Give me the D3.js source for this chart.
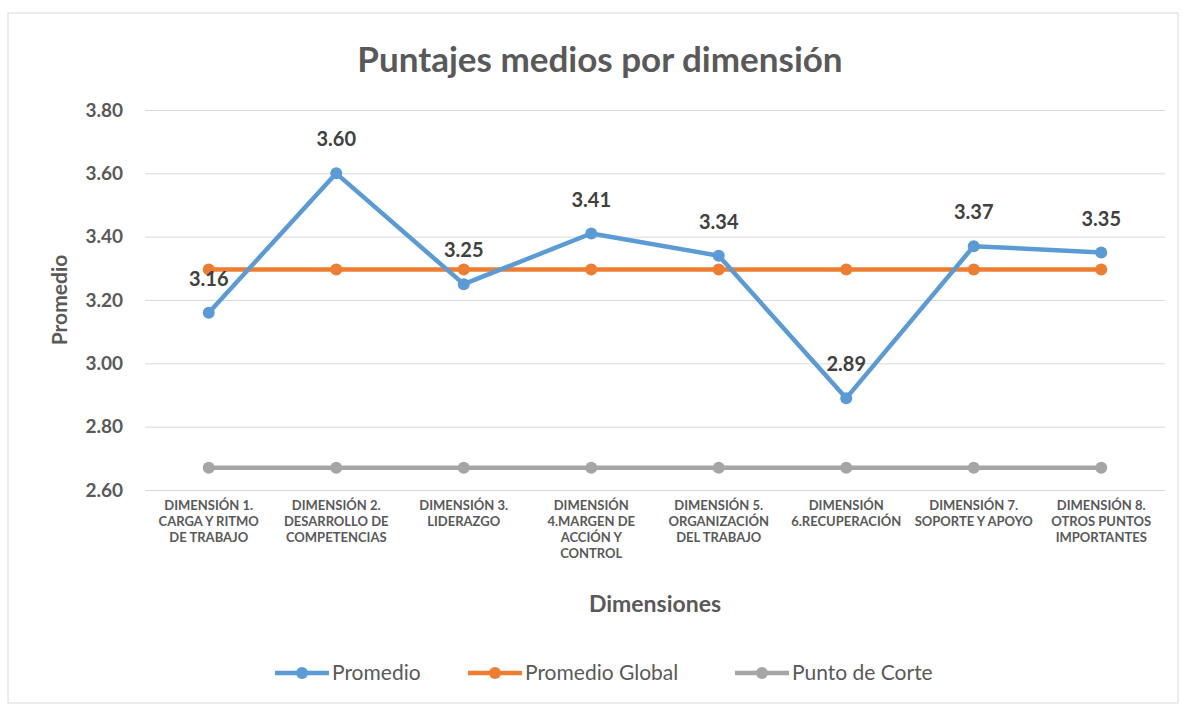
<!DOCTYPE html>
<html>
<head>
<meta charset="utf-8">
<script src="https://cdn.jsdelivr.net/npm/d3@7"></script>
<style>
  body { margin: 0; background: #fff; }
  text { font-family: Lato, "Open Sans", sans-serif; }
</style>
</head>
<body>
<svg width="1183" height="705"></svg>
<script>
// data
var categories = [
    ["DIMENSIÓN 1.", "CARGA Y RITMO", "DE TRABAJO"],
    ["DIMENSIÓN 2.", "DESARROLLO DE", "COMPETENCIAS"],
    ["DIMENSIÓN 3.", "LIDERAZGO"],
    ["DIMENSIÓN", "4.MARGEN DE", "ACCIÓN Y", "CONTROL"],
    ["DIMENSIÓN 5.", "ORGANIZACIÓN", "DEL TRABAJO"],
    ["DIMENSIÓN", "6.RECUPERACIÓN"],
    ["DIMENSIÓN 7.", "SOPORTE Y APOYO"],
    ["DIMENSIÓN 8.", "OTROS PUNTOS", "IMPORTANTES"]
];
var promedio = [3.16, 3.60, 3.25, 3.41, 3.34, 2.89, 3.37, 3.35];
var promedioGlobal = [3.296, 3.296, 3.296, 3.296, 3.296, 3.296, 3.296, 3.296];
var puntoCorte = [2.67, 2.67, 2.67, 2.67, 2.67, 2.67, 2.67, 2.67];
var yTicks = [2.6, 2.8, 3.0, 3.2, 3.4, 3.6, 3.8];
var seriesNames = ["Promedio", "Promedio Global", "Punto de Corte"];
var seriesColors = ["#5B9BD5", "#ED7D31", "#A5A5A5"];

var svg = d3.select("svg");
var textColor = "#595959";

// chart border
svg.append("rect")
        .attr("x", 8).attr("y", 13)
        .attr("width", 1170).attr("height", 690)
        .attr("fill", "none")
        .attr("stroke", "#D9D9D9");

var plot = {left: 145, right: 1165, top: 110, bottom: 490};

var xScale = d3.scalePoint()
        .domain(d3.range(categories.length))
        .range([plot.left, plot.right])
        .padding(0.5);
var yScale = d3.scaleLinear()
        .domain([2.6, 3.8])
        .range([plot.bottom, plot.top]);

// title
svg.append("text")
        .attr("x", 600).attr("y", 72)
        .attr("text-anchor", "middle")
        .attr("font-size", "35px")
        .attr("font-weight", "bold")
        .attr("fill", textColor)
        .text("Puntajes medios por dimensión");

// grid + y axis
var yAxis = d3.axisLeft(yScale)
        .tickValues(yTicks)
        .tickSize(-(plot.right - plot.left))
        .tickPadding(22)
        .tickFormat(d3.format(".2f"));
var gY = svg.append("g")
        .attr("transform", "translate(" + plot.left + ",0)")
        .call(yAxis);
gY.select(".domain").remove();
gY.selectAll(".tick line").attr("stroke", "#D9D9D9");
gY.selectAll(".tick text")
        .attr("font-size", "19px")
        .attr("font-weight", "bold")
        .attr("fill", textColor);

// x labels
var xg = svg.append("g");
categories.forEach(function (lines, i) {
    var t = xg.append("text")
            .attr("x", xScale(i))
            .attr("y", 510)
            .attr("text-anchor", "middle")
            .attr("font-size", "13px")
            .attr("font-weight", "bold")
            .attr("fill", textColor);
    lines.forEach(function (l, j) {
        t.append("tspan")
                .attr("x", xScale(i))
                .attr("dy", j === 0 ? 0 : 16)
                .text(l);
    });
});

// axis titles
svg.append("text")
        .attr("x", 655).attr("y", 612)
        .attr("text-anchor", "middle")
        .attr("font-size", "23px")
        .attr("font-weight", "bold")
        .attr("fill", textColor)
        .text("Dimensiones");
svg.append("text")
        .attr("transform", "translate(67,300) rotate(-90)")
        .attr("text-anchor", "middle")
        .attr("font-size", "21px")
        .attr("font-weight", "bold")
        .attr("fill", textColor)
        .text("Promedio");

// series
var allSeries = [puntoCorte, promedioGlobal, promedio];
var allColors = [seriesColors[2], seriesColors[1], seriesColors[0]];
var line = d3.line()
        .x(function (d, i) { return xScale(i); })
        .y(function (d) { return yScale(d); });

allSeries.forEach(function (s, k) {
    var g = svg.append("g");
    g.append("path")
            .datum(s)
            .attr("d", line)
            .attr("fill", "none")
            .attr("stroke", allColors[k])
            .attr("stroke-width", 4.5)
            .attr("stroke-linejoin", "round");
    g.selectAll("circle")
            .data(s)
            .enter()
            .append("circle")
            .attr("cx", function (d, i) { return xScale(i); })
            .attr("cy", function (d) { return yScale(d); })
            .attr("r", 6)
            .attr("fill", allColors[k]);
});

// data labels for Promedio
svg.append("g").selectAll("text")
        .data(promedio)
        .enter()
        .append("text")
        .attr("x", function (d, i) { return xScale(i); })
        .attr("y", function (d) { return yScale(d) - 27; })
        .attr("text-anchor", "middle")
        .attr("font-size", "20px")
        .attr("font-weight", "bold")
        .attr("fill", "#404040")
        .text(function (d) { return d3.format(".2f")(d); });

// legend
var legendX = [275, 468, 735];
var leg = svg.append("g");
seriesNames.forEach(function (n, i) {
    var x0 = legendX[i];
    leg.append("line")
            .attr("x1", x0).attr("x2", x0 + 54)
            .attr("y1", 673).attr("y2", 673)
            .attr("stroke", seriesColors[i])
            .attr("stroke-width", 4.5);
    leg.append("circle")
            .attr("cx", x0 + 27).attr("cy", 673)
            .attr("r", 6)
            .attr("fill", seriesColors[i]);
    leg.append("text")
            .attr("x", x0 + 57).attr("y", 680)
            .attr("font-size", "21px")
            .attr("fill", textColor)
            .text(n);
});
</script>
</body>
</html>
